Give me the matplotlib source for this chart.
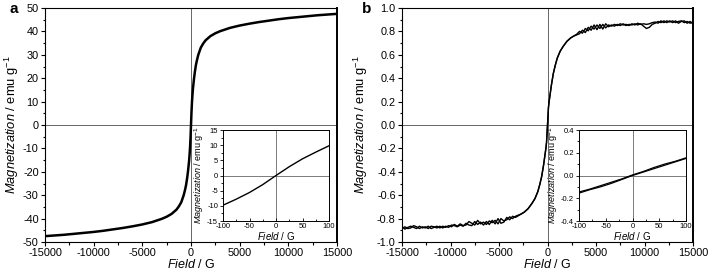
import matplotlib
matplotlib.use("Agg")
import matplotlib.pyplot as plt
from matplotlib.ticker import MultipleLocator

plt.rcParams['font.family'] = ['Liberation Sans', 'DejaVu Sans']
plt.rcParams['mathtext.fontset'] = 'custom'
plt.rcParams['mathtext.rm'] = 'Liberation Sans'
plt.rcParams['mathtext.it'] = 'Liberation Sans:italic'
plt.rcParams['axes.unicode_minus'] = False

# ---------------- Panel a data ----------------
field_a = [-15000, -14000, -13000, -12000, -11000, -10000, -9000, -8000, -7000, -6000,
           -5000, -4000, -3000, -2500, -2000, -1500, -1250, -1000, -750, -600, -500,
           -400, -300, -200, -150, -100, -50, 0, 50, 100, 150, 200, 300, 400, 500, 600,
           750, 1000, 1250, 1500, 2000, 2500, 3000, 4000, 5000, 6000, 7000, 8000, 9000,
           10000, 11000, 12000, 13000, 14000, 15000]
mag_a = [-47.5, -47.2, -46.9, -46.5, -46.1, -45.7, -45.2, -44.6, -44.0, -43.3,
         -42.5, -41.5, -40.1, -39.2, -38.0, -36.2, -34.8, -33.0, -30.0, -27.5, -25.5,
         -22.8, -19.5, -15.5, -12.9, -9.8, -5.5, 0.0, 5.5, 9.8, 12.9, 15.5, 19.5, 22.8, 25.5, 27.5,
         30.0, 33.0, 34.8, 36.2, 38.0, 39.2, 40.1, 41.5, 42.5, 43.3, 44.0, 44.6, 45.2,
         45.7, 46.1, 46.5, 46.9, 47.2, 47.5]

inset_field_a = [-100, -75, -50, -25, 0, 25, 50, 75, 100]
inset_mag_a = [-9.8, -7.8, -5.6, -3.0, 0.0, 2.9, 5.5, 7.7, 9.8]

# ---------------- Panel b data ----------------
field_b_inner = [-2700, -2400, -2000, -1600, -1300, -1000, -800, -600, -500, -400, -300,
                 -200, -150, -100, -50, 0, 50, 100, 150, 200, 300, 400, 500, 600, 800,
                 1000, 1300, 1600, 2000, 2400, 2700]
mag_b_inner = [-0.76, -0.745, -0.715, -0.67, -0.63, -0.57, -0.51, -0.44, -0.39, -0.34, -0.28,
               -0.22, -0.19, -0.15, -0.075, 0.0, 0.075, 0.15, 0.19, 0.22, 0.28, 0.34, 0.39, 0.44, 0.51,
               0.57, 0.63, 0.67, 0.715, 0.745, 0.76]

field_b_pos = [3000, 3300, 3600, 3900, 4200, 4500, 4800, 5100, 5400, 5700, 6000, 6300, 6600,
               6900, 7200, 7500, 7800, 8100, 8400, 8700, 9000, 9300, 9600, 9900, 10200, 10500,
               10800, 11100, 11400, 11700, 12000, 12300, 12600, 12900, 13200, 13500, 13800,
               14100, 14400, 14700, 15000]
mag_b_pos_up = [0.775, 0.80, 0.785, 0.825, 0.805, 0.845, 0.82, 0.855, 0.825, 0.86, 0.83, 0.855, 0.845,
                0.86, 0.85, 0.865, 0.855, 0.86, 0.85, 0.865, 0.855, 0.87, 0.86, 0.865, 0.86, 0.865,
                0.875, 0.88, 0.87, 0.89, 0.875, 0.89, 0.88, 0.89, 0.875, 0.885, 0.89,
                0.875, 0.885, 0.87, 0.88]
mag_b_pos_dn = [0.77, 0.78, 0.81, 0.79, 0.835, 0.81, 0.855, 0.815, 0.86, 0.82, 0.865, 0.84, 0.855,
                0.845, 0.86, 0.85, 0.865, 0.85, 0.86, 0.855, 0.865, 0.855, 0.865, 0.845, 0.825, 0.835,
                0.86, 0.87, 0.885, 0.875, 0.89, 0.875, 0.89, 0.875, 0.89, 0.87, 0.885,
                0.89, 0.87, 0.885, 0.865]

field_b_neg = [-3000, -3300, -3600, -3900, -4200, -4500, -4800, -5100, -5400, -5700, -6000,
               -6300, -6600, -6900, -7200, -7500, -7800, -8100, -8400, -8700, -9000, -9300,
               -9600, -9900, -10200, -10500, -10800, -11100, -11400, -11700, -12000, -12300,
               -12600, -12900, -13200, -13500, -13800, -14100, -14400, -14700, -15000]
mag_b_neg_up = [-0.77, -0.78, -0.80, -0.785, -0.81, -0.82, -0.80, -0.845, -0.815, -0.835, -0.82,
                -0.85, -0.83, -0.845, -0.815, -0.855, -0.84, -0.825, -0.855, -0.86, -0.845, -0.865,
                -0.85, -0.87, -0.86, -0.875, -0.865, -0.88, -0.865, -0.875, -0.885, -0.865,
                -0.88, -0.87, -0.885, -0.87, -0.86, -0.88, -0.885, -0.87, -0.885]
mag_b_neg_dn = [-0.775, -0.79, -0.78, -0.81, -0.79, -0.83, -0.84, -0.80, -0.845, -0.815, -0.85,
                -0.825, -0.855, -0.83, -0.85, -0.825, -0.86, -0.855, -0.84, -0.865, -0.855, -0.87,
                -0.86, -0.855, -0.875, -0.865, -0.88, -0.865, -0.88, -0.87, -0.865, -0.885,
                -0.87, -0.88, -0.865, -0.885, -0.875, -0.865, -0.875, -0.89, -0.87]

inset_field_b = [-100, -80, -60, -40, -20, 0, 20, 40, 60, 80, 100]
inset_mag_b_up = [-0.155, -0.125, -0.10, -0.07, -0.035, 0.0, 0.03, 0.06, 0.09, 0.12, 0.15]
inset_mag_b_dn = [-0.145, -0.12, -0.09, -0.06, -0.03, 0.005, 0.035, 0.07, 0.10, 0.125, 0.155]

ylab = r'$\mathit{Magnetization}$ / emu g$^{-1}$'
xlab = r'$\mathit{Field}$ / G'

fig = plt.figure(figsize=(7.08, 2.72), dpi=100)

ZC = '#666666'


def style_main(ax, ylim, ymaj, ymin, fmt, ylx):
    ax.set_xlim(-15000, 15000)
    ax.set_ylim(*ylim)
    ax.xaxis.set_major_locator(MultipleLocator(5000))
    ax.xaxis.set_minor_locator(MultipleLocator(2500))
    ax.yaxis.set_major_locator(MultipleLocator(ymaj))
    ax.yaxis.set_minor_locator(MultipleLocator(ymin))
    ax.tick_params(which='both', direction='out', top=False, right=False, labelsize=7.8, pad=1.5)
    ax.tick_params(which='major', length=3, width=0.8)
    ax.tick_params(which='minor', length=1.8, width=0.8)
    if fmt:
        ax.yaxis.set_major_formatter(plt.FormatStrFormatter(fmt))
    ax.axhline(0, color=ZC, lw=0.7, zorder=1)
    ax.axvline(0, color=ZC, lw=0.7, zorder=1)
    ax.set_xlabel(xlab, fontsize=9)
    ax.set_ylabel(ylab, fontsize=9.3)
    ax.xaxis.set_label_coords(0.5, -0.068)
    ax.yaxis.set_label_coords(ylx, 0.5)
    for s in ax.spines.values():
        s.set_linewidth(0.8)
    ax.spines['right'].set_linewidth(1.4)


def style_inset(ax, ylim, ymaj, ymin, fmt):
    ax.set_xlim(-100, 100)
    ax.set_ylim(*ylim)
    ax.xaxis.set_major_locator(MultipleLocator(50))
    ax.xaxis.set_minor_locator(MultipleLocator(25))
    ax.yaxis.set_major_locator(MultipleLocator(ymaj))
    ax.yaxis.set_minor_locator(MultipleLocator(ymin))
    ax.tick_params(axis='x', which='both', direction='in', labelsize=5.5, pad=1.5)
    ax.tick_params(axis='y', which='both', direction='out', labelsize=5.5, pad=1)
    ax.tick_params(which='major', length=2.5, width=0.6)
    ax.tick_params(which='minor', length=1.5, width=0.6)
    if fmt:
        ax.yaxis.set_major_formatter(plt.FormatStrFormatter(fmt))
    ax.axhline(0, color=ZC, lw=0.6, zorder=1)
    ax.axvline(0, color=ZC, lw=0.6, zorder=1)
    ax.set_xlabel(xlab, fontsize=7, labelpad=0)
    ax.set_ylabel(ylab, fontsize=6.5, labelpad=1)
    for s in ax.spines.values():
        s.set_linewidth(0.7)


# Panel a
axa = fig.add_axes([45/708, 30/272, 292/708, 234/272])
axa.plot(field_a, mag_a, color='black', lw=1.8, zorder=3)
style_main(axa, (-50, 50), 10, 5, None, -0.082)

insa = fig.add_axes([223/708, 51/272, 106/708, 91/272])
insa.plot(inset_field_a, inset_mag_a, color='black', lw=1.0, zorder=3)
style_inset(insa, (-15, 15), 5, 2.5, None)

# Panel b
axb = fig.add_axes([402/708, 30/272, 291/708, 234/272])
for neg, pos in ((mag_b_neg_up, mag_b_pos_up), (mag_b_neg_dn, mag_b_pos_dn)):
    xs = field_b_neg[::-1] + field_b_inner + field_b_pos
    ys = neg[::-1] + mag_b_inner + pos
    axb.plot(xs, ys, color='black', lw=1.0, zorder=3)
style_main(axb, (-1.0, 1.0), 0.2, 0.1, '%.1f', -0.11)

insb = fig.add_axes([579/708, 51/272, 107/708, 91/272])
insb.plot(inset_field_b, inset_mag_b_up, color='black', lw=0.9, zorder=3)
insb.plot(inset_field_b, inset_mag_b_dn, color='black', lw=0.9, zorder=3)
style_inset(insb, (-0.4, 0.4), 0.2, 0.1, '%.1f')

fig.text(10/708, 1 - 9/272, 'a', fontsize=11, fontweight='bold', va='center', ha='left')
fig.text(362/708, 1 - 9/272, 'b', fontsize=11, fontweight='bold', va='center', ha='left')

fig.savefig('out.png', dpi=100)
